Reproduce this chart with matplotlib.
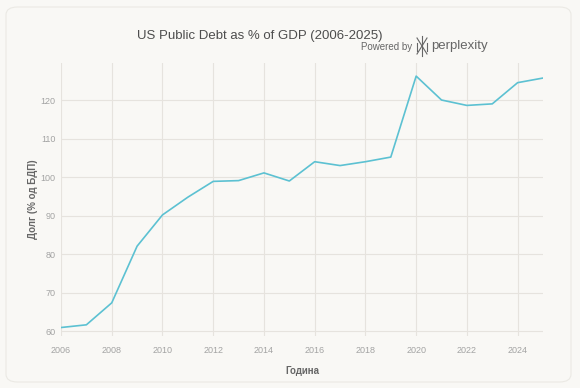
import numpy as np
from matplotlib import pyplot as plt
from matplotlib.patches import FancyBboxPatch

years = list(range(2006, 2026))
debt = [61.0, 61.7, 67.4, 82.1, 90.2, 94.8, 98.9, 99.1, 101.1, 99.0,
        104.0, 103.0, 104.0, 105.2, 126.2, 120.0, 118.6, 119.0, 124.5, 125.7]
xticks = list(range(2006, 2025, 2))
yticks = [60, 70, 80, 90, 100, 110, 120]

bg = "#f9f8f5"
grid_c = "#e6e3de"
tick_c = "#a3a3a3"
line_c = "#5cc1d2"

plt.rcParams['font.family'] = ['Liberation Sans', 'DejaVu Sans']

fig = plt.figure(figsize=(5.8, 3.88), dpi=100)
fig.patch.set_facecolor(bg)

# card with rounded corners, behind everything
card = FancyBboxPatch((6/580, 6/388), 565/580, 375/388,
                      boxstyle="round,pad=0,rounding_size=0.02",
                      transform=fig.transFigure, facecolor=bg,
                      edgecolor="#ebe9e4", linewidth=0.8, zorder=-5)
fig.patches.append(card)

ax = fig.add_axes([61/580, 1 - 336/388, (543 - 61)/580, (336 - 63)/388])
ax.set_zorder(2)
ax.set_facecolor("none")
ax.plot(years, debt, color=line_c, lw=1.2, zorder=3)

ax.set_xlim(2006, 2025)
ax.set_ylim(58.8, 129.6)
ax.set_xticks(xticks)
ax.set_yticks(yticks)
ax.grid(True, color=grid_c, lw=0.8)
ax.tick_params(length=0, labelsize=6.5, labelcolor=tick_c)
ax.tick_params(axis="y", pad=4)
ax.tick_params(axis="x", pad=7)
for s in ax.spines.values():
    s.set_visible(False)

ax.set_xlabel("Година", fontsize=7, fontweight="bold", color="#666666", labelpad=8)
ax.set_ylabel("Долг (% од БДП)", fontsize=7, fontweight="bold", color="#666666", labelpad=2)

fig.text(260/580, 1 - 36/388, "US Public Debt as % of GDP (2006-2025)",
         ha="center", va="center", fontsize=9.5, color="#4d4d4d")
fig.text(412/580, 1 - 47/388, "Powered by", ha="right", va="center",
         fontsize=7, color="#666666")
fig.text(431/580, 1 - 46/388, "perplexity", ha="left", va="center",
         fontsize=9.5, color="#666666")

# small logo glyph
lx, ly = 422/580, 1 - 46/388
w, h = 5/580, 8/388
logo = [([lx - w, lx + w], [ly + h, ly - h]), ([lx - w, lx + w], [ly - h, ly + h]),
        ([lx, lx], [ly + h * 1.2, ly - h * 1.2]),
        ([lx - w, lx - w], [ly + h * 0.4, ly - h * 0.6]),
        ([lx + w, lx + w], [ly + h * 0.4, ly - h * 0.6])]
for xs, ys in logo:
    fig.add_artist(plt.Line2D(xs, ys, transform=fig.transFigure,
                              color="#666666", lw=0.8))

fig.savefig("out.png", dpi=100, facecolor=bg)
